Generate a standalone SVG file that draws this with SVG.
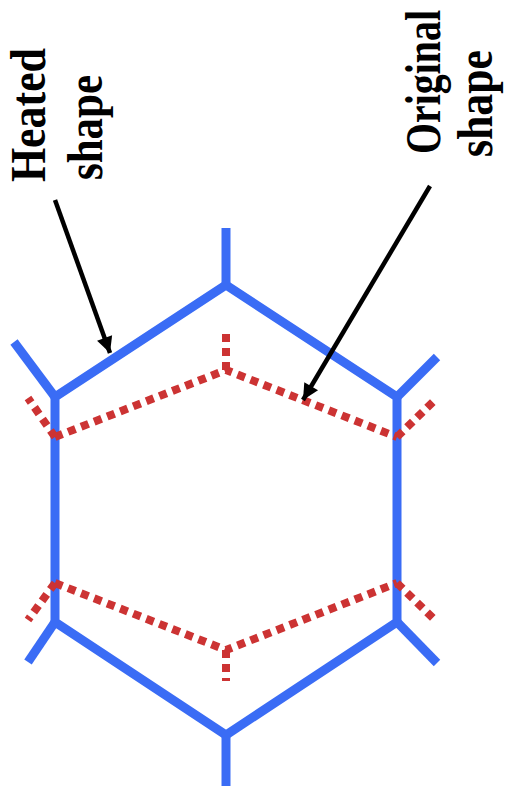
<svg xmlns="http://www.w3.org/2000/svg" width="505" height="803" viewBox="0 0 505 803">
<style>
.blue{fill:none;stroke:#3a6cf5;stroke-width:9;stroke-linejoin:miter;stroke-linecap:butt}
.red{fill:none;stroke:#cc3333;stroke-width:8;stroke-dasharray:8 6;stroke-linejoin:round}
.arrow{fill:none;stroke:#000;stroke-width:4.5}
.lbl{font-family:"Liberation Serif",serif;font-weight:bold;font-size:50px;fill:#000}
</style>
<defs>
<marker id="ah" markerUnits="userSpaceOnUse" markerWidth="20" markerHeight="20" viewBox="0 0 20 20" refX="17" refY="10" orient="auto">
<path d="M1,2 L17,10 L1,18 Z" fill="#000"/>
</marker>
</defs>
<rect width="505" height="803" fill="#fff"/>
<g id="heated-shape">
<polygon class="blue" points="226,285 397,397 397,622 226,735 55,622 55,397"/>
<line class="blue" x1="226" y1="285" x2="226" y2="228"/>
<line class="blue" x1="397" y1="397" x2="437" y2="357"/>
<line class="blue" x1="397" y1="622" x2="437" y2="663"/>
<line class="blue" x1="226" y1="735" x2="226" y2="786"/>
<line class="blue" x1="55" y1="622" x2="28" y2="662"/>
<line class="blue" x1="55" y1="397" x2="14" y2="342"/>
</g>
<g id="original-shape">
<polyline class="red" points="55,437 226,370 397,437"/>
<polyline class="red" points="55,583 226,650 397,583"/>
<line class="red" x1="226" y1="370" x2="226" y2="332"/>
<line class="red" x1="397" y1="437" x2="437" y2="398"/>
<line class="red" x1="397" y1="583" x2="437" y2="622"/>
<line class="red" x1="226" y1="650" x2="226" y2="681"/>
<line class="red" x1="55" y1="583" x2="28" y2="620"/>
<line class="red" x1="55" y1="437" x2="28" y2="398"/>
</g>
<g id="connectors">
<line class="arrow" x1="55" y1="200" x2="110" y2="353" marker-end="url(#ah)"/>
<line class="arrow" x1="430" y1="186" x2="303" y2="400" marker-end="url(#ah)"/>
</g>
<g id="label-heated">
<text class="lbl" transform="translate(45,182) rotate(-90)" textLength="134" lengthAdjust="spacingAndGlyphs">Heated</text>
<text class="lbl" transform="translate(102,180) rotate(-90)" textLength="105" lengthAdjust="spacingAndGlyphs">shape</text>
</g>
<g id="label-original">
<text class="lbl" transform="translate(440,154) rotate(-90)" textLength="144" lengthAdjust="spacingAndGlyphs">Original</text>
<text class="lbl" transform="translate(492,157) rotate(-90)" textLength="107" lengthAdjust="spacingAndGlyphs">shape</text>
</g>
</svg>
